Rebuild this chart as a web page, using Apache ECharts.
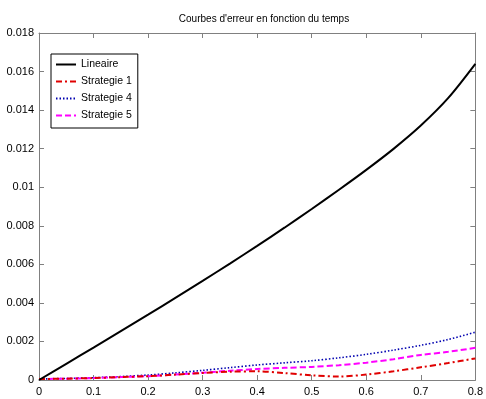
<!DOCTYPE html>
<html>
<head>
<meta charset="utf-8">
<script src="https://cdn.jsdelivr.net/npm/echarts@6/dist/echarts.min.js"></script>
<style>html,body{margin:0;padding:0;background:#fff;overflow:hidden;}#c{width:486px;height:399px;}</style>
</head>
<body>
<div id="c"></div>
<script>
var titleText = "Courbes d'erreur en fonction du temps";
var xValues = [0,0.05,0.1,0.15,0.2,0.25,0.3,0.35,0.4,0.45,0.5,0.55,0.6,0.65,0.7,0.75,0.8];
var lineaire = [0,0.00084,0.00168,0.00253,0.00339,0.00426,0.00514,0.00604,0.00696,0.0079,0.00887,0.00987,0.0109,0.01199,0.0132,0.01462,0.0164];
var strategie1 = [0.00005,0.00007,0.0001,0.00015,0.0002,0.00028,0.00036,0.00043,0.00045,0.00036,0.00024,0.00018,0.00028,0.00045,0.00066,0.00088,0.00112];
var strategie4 = [0.00005,0.00008,0.00012,0.00018,0.00026,0.00037,0.0005,0.00064,0.00078,0.00089,0.001,0.00115,0.00133,0.00155,0.0018,0.0021,0.00248];
var strategie5 = [0.00005,0.00007,0.0001,0.00015,0.0002,0.00028,0.00038,0.00048,0.00057,0.00063,0.00068,0.00077,0.0009,0.00108,0.0013,0.00146,0.00167];
var seriesNames = ['Lineaire','Strategie 1','Strategie 4','Strategie 5'];

function pairs(ys){ return xValues.map(function(x,i){ return [x, ys[i]]; }); }

var font = 'Liberation Sans, Arial, sans-serif';
var axisGray = '#808080';
var chart = echarts.init(document.getElementById('c'));
chart.setOption({
  animation: false,
  backgroundColor: '#fff',
  title: { text: titleText, left: 259, textAlign: 'center', top: 9,
    textStyle: { fontFamily: font, fontSize: 10, fontWeight: 'normal', color: '#000' } },
  grid: { left: 39, right: 7, top: 33, bottom: 19, containLabel: false },
  legend: {
    orient: 'vertical', left: 51, top: 54,
    data: seriesNames,
    backgroundColor: '#fff', borderColor: '#000', borderWidth: 1,
    padding: [5, 6, 7, 4], itemGap: 6, itemWidth: 20, itemHeight: 11,
    itemStyle: { opacity: 0 },
    textStyle: { fontFamily: font, fontSize: 10.5, color: '#000' }
  },
  xAxis: [{
    type: 'value', min: 0, max: 0.8, interval: 0.1,
    axisLine: { onZero: false, lineStyle: { color: axisGray } },
    axisTick: { inside: true, length: 5, lineStyle: { color: axisGray } },
    axisLabel: { color: '#000', fontFamily: font, fontSize: 11, margin: 6 },
    splitLine: { show: false }
  }, {
    type: 'value', min: 0, max: 0.8, interval: 0.1, position: 'top',
    axisLine: { show: true, onZero: false, lineStyle: { color: axisGray } },
    axisTick: { show: true, inside: true, length: 5, lineStyle: { color: axisGray } },
    axisLabel: { show: false }, splitLine: { show: false }
  }],
  yAxis: [{
    type: 'value', min: 0, max: 0.018, interval: 0.002,
    axisLine: { show: true, onZero: false, lineStyle: { color: axisGray } },
    axisTick: { show: true, inside: true, length: 5, lineStyle: { color: axisGray } },
    axisLabel: { color: '#000', fontFamily: font, fontSize: 11, margin: 5 },
    splitLine: { show: false }
  }, {
    type: 'value', min: 0, max: 0.018, interval: 0.002, position: 'right',
    axisLine: { show: true, onZero: false, lineStyle: { color: axisGray } },
    axisTick: { show: true, inside: true, length: 5, lineStyle: { color: axisGray } },
    axisLabel: { show: false }, splitLine: { show: false }
  }],
  series: [
    { name: seriesNames[0], type: 'line', data: pairs(lineaire), smooth: 0.3, symbol: 'none',
      lineStyle: { color: '#000', width: 2, type: 'solid' }, itemStyle: { color: '#000' }, z: 5 },
    { name: seriesNames[1], type: 'line', data: pairs(strategie1), smooth: 0.3, symbol: 'none',
      lineStyle: { color: '#e00000', width: 2, type: [6, 3, 2, 3] }, itemStyle: { color: '#e00000' }, z: 4 },
    { name: seriesNames[2], type: 'line', data: pairs(strategie4), smooth: 0.3, symbol: 'none',
      lineStyle: { color: '#0000b0', width: 1.6, type: [1.5, 2] }, itemStyle: { color: '#0000b0' }, z: 3 },
    { name: seriesNames[3], type: 'line', data: pairs(strategie5), smooth: 0.3, symbol: 'none',
      lineStyle: { color: '#ff00ff', width: 2, type: [6, 3] }, itemStyle: { color: '#ff00ff' }, z: 3 }
  ]
});
</script>
</body>
</html>
